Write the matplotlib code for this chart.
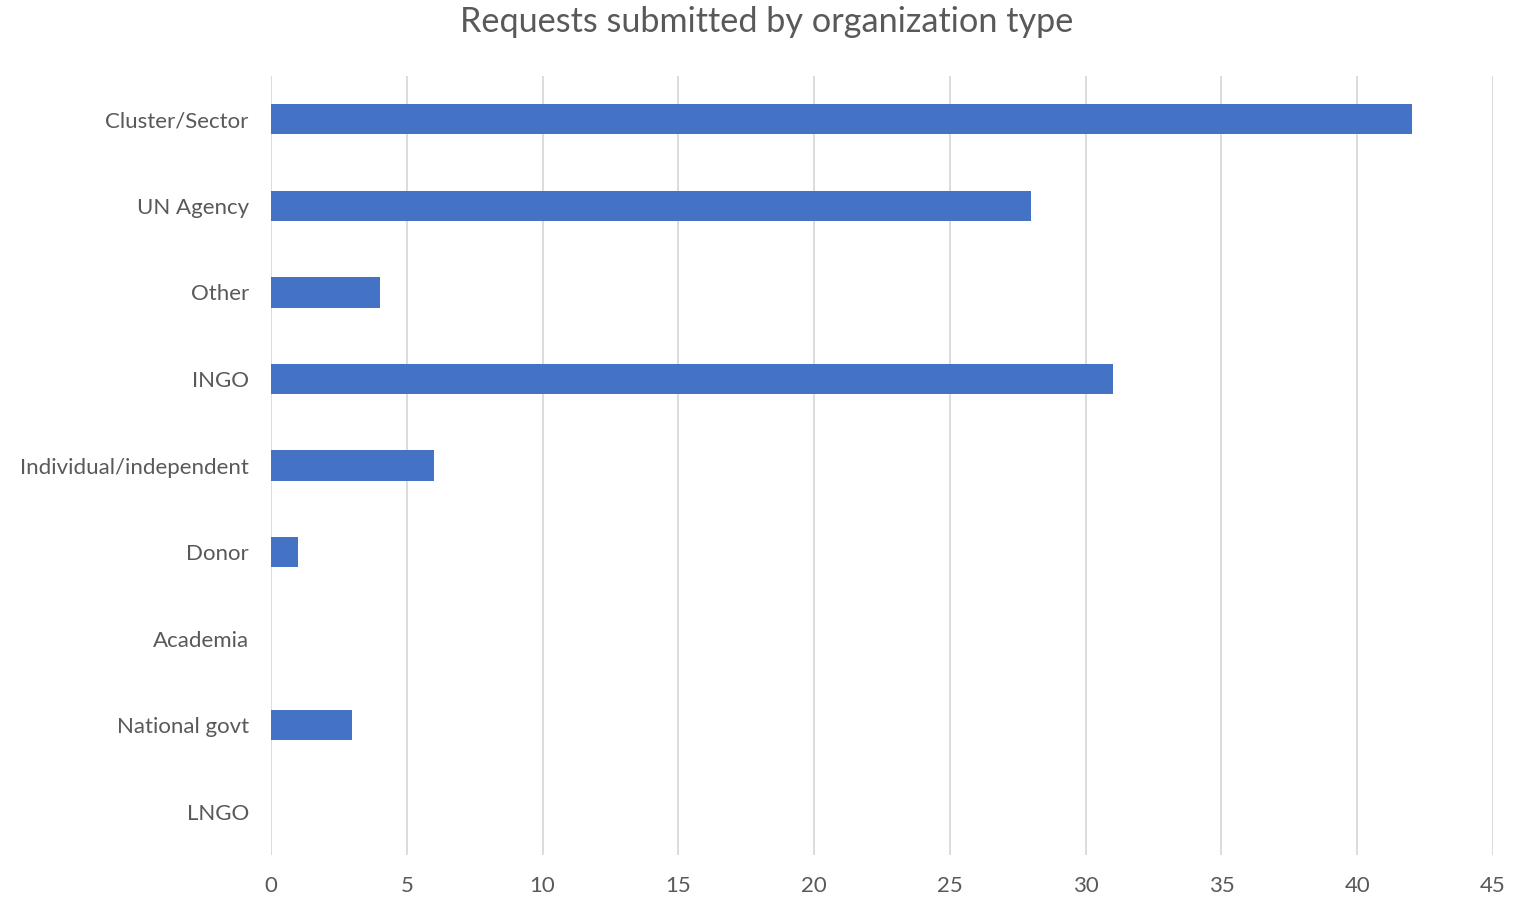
import matplotlib
matplotlib.use("Agg")
import matplotlib.pyplot as plt

categories = ["Cluster/Sector", "UN Agency", "Other", "INGO", "Individual/independent",
              "Donor", "Academia", "National govt", "LNGO"]
values = [42, 28, 4, 31, 6, 1, 0, 3, 0]
xticks = list(range(0, 50, 5))

plt.rcParams['font.family'] = ['Lato', 'DejaVu Sans']

fig = plt.figure(figsize=(15.34, 8.97), dpi=100)
ax = fig.add_axes([271/1534, 1-855/897, (1493-271)/1534, (855-76)/897])

ypos = list(range(len(categories)))
ax.barh(ypos, values, height=0.35, color="#4472C4", zorder=3)
ax.set_ylim(len(categories)-0.5, -0.5)
ax.set_xlim(0, 45)
ax.set_yticks(ypos)
ax.set_yticklabels(categories, fontsize=16, color="#595959")
ax.set_xticks(xticks)
ax.set_xticklabels([str(t) for t in xticks], fontsize=16, color="#595959")
ax.tick_params(axis='both', length=0)
ax.tick_params(axis='y', pad=16)
ax.tick_params(axis='x', pad=15)
ax.grid(axis='x', color="#D9D9D9", linewidth=1.3, zorder=0)
for s in ax.spines.values():
    s.set_visible(False)

fig.text(0.5, 1-22/897, "Requests submitted by organization type", ha='center', va='center',
         fontsize=24.7, color="#595959")

fig.savefig("out.png", dpi=100, facecolor="white")
